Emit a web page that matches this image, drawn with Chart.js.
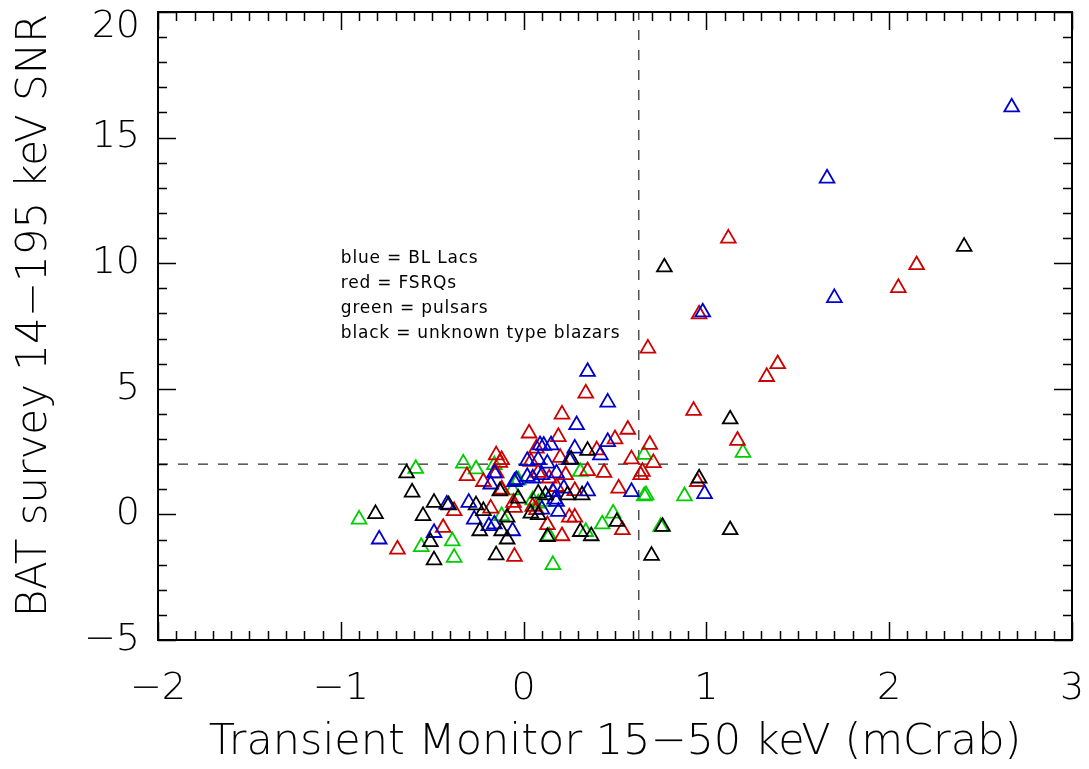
<!DOCTYPE html>
<html>
<head>
<meta charset="utf-8">
<script src="https://cdn.jsdelivr.net/npm/chart.js@4.4.1/dist/chart.umd.min.js"></script>
<style>
  html, body { margin: 0; padding: 0; background: #fff; }
  #wrap { width: 1089px; height: 769px; }
</style>
</head>
<body>
<div id="wrap"><canvas id="snr-chart"></canvas></div>
<script>
// BL Lacs (blue)
const blLacX = [2.67, 1.66, 1.70, 0.98, 0.99, 0.59, -0.79, -0.49, -0.42, -0.30, -0.27, -0.19, -0.16,
                -0.18, -0.16, -0.05, -0.06, 0.35, 0.46, 0.29, 0.46, 0.09, 0.11, 0.15, 0.28, 0.42,
                0.02, 0.08, 0.13, 0.25, 0.18, -0.04, 0.02, 0.10, 0.05, 0.16, 0.22, 0.35, 0.17,
                0.18, 0.10, 0.19];
const blLacY = [16.21, 13.38, 8.62, 8.05, 0.82, 0.90, -0.99, -0.73, 0.40, 0.47, -0.20, -0.46, -0.39,
                1.20, 1.64, 1.30, -0.66, 5.68, 4.46, 3.56, 2.89, 2.76, 2.74, 2.76, 2.63, 2.36,
                2.13, 2.17, 2.03, 2.17, 1.64, 1.37, 1.50, 1.57, 1.44, 0.90, 1.04, 0.93, 0.60,
                0.51, 0.20, 0.11];

// FSRQs (red)
const fsrqX = [1.12, 2.15, 2.05, 0.96, 0.68, 1.39, 1.33, 0.93, 1.17, 0.69, 0.71, 0.65, 0.64, 0.95,
               0.57, 0.59, -0.69, -0.38, -0.44, -0.31, -0.15, -0.13, -0.15, -0.22, -0.12, -0.18,
               -0.05, -0.055, -0.05, 0.34, 0.21, 0.03, 0.19, 0.50, 0.07, 0.40, 0.20, 0.04, 0.35,
               0.44, -0.12, 0.08, 0.14, 0.23, -0.12, 0.18, 0.28, 0.05, 0.07, 0.25, 0.28, 0.54,
               0.13, 0.21, 0.52];
const fsrqY = [10.99, 9.93, 9.02, 7.97, 6.61, 5.99, 5.48, 4.13, 2.94, 2.78, 2.05, 1.70, 1.57, 1.30,
               3.38, 2.20, -1.39, 0.14, -0.53, 1.53, 2.36, 2.06, 1.64, 1.30, 1.00, 0.24,
               -1.68, 0.47, 0.27, 4.82, 3.98, 3.23, 3.09, 3.00, 2.63, 2.56, 2.26, 2.10, 1.73,
               1.66, 2.17, 1.66, 1.44, 1.57, 0.97, 1.10, 0.94, 0.31, 0.18, -0.12, -0.12, -0.62,
               -0.42, -0.86, 1.04];

// pulsars (green)
const pulsarX = [1.20, 0.66, 0.67, 0.66, 0.88, 0.75, -0.90, -0.59, -0.56, -0.39, -0.38, -0.33, -0.26,
                 -0.16, -0.06, -0.12, 0.31, -0.03, 0.05, 0.08, 0.11, 0.49, 0.43, 0.14, 0.34, 0.16];
const pulsarY = [2.46, 2.38, 0.77, 0.73, 0.73, -0.49, -0.20, 1.82, -1.29, -1.06, -1.72, 2.03, 1.80,
                 1.97, 0.97, -0.06, 1.70, 1.37, 0.57, 0.44, 0.51, 0.04, -0.39, -0.86, -0.69, -2.01];

// unknown type blazars (black)
const unknownX = [2.41, 0.77, 1.13, 0.96, 0.76, 1.13, 0.70, -0.81, -0.64, -0.61, -0.55, -0.51, -0.49,
                  -0.49, -0.41, -0.26, -0.22, -0.09, -0.24, -0.12, -0.09, -0.15, -0.13, 0.35, 0.26,
                  -0.03, 0.08, 0.12, 0.32, 0.24, 0.04, 0.08, 0.51, 0.13, 0.31, 0.37];
const unknownY = [10.66, 9.84, 3.79, 1.44, -0.49, -0.62, -1.64, 0.02, 1.64, 0.88, -0.06, -1.09, -1.82,
                  0.47, 0.37, 0.37, 0.14, -0.12, -0.66, -0.66, -0.99, -1.62, 0.93, 2.54, 2.19,
                  0.64, 0.84, 0.77, 0.77, 0.77, 0.04, -0.02, -0.29, -0.89, -0.69, -0.86];

const cutX = 0.63;   // vertical dashed line
const cutY = 2;      // horizontal dashed line

const noteLines = ["blue = BL Lacs", "red = FSRQs", "green = pulsars", "black = unknown type blazars"];
const noteAnchor = {x: -1.0, y: 10.2};

const blue = 'rgb(0, 0, 205)';
const red = 'rgb(205, 0, 0)';
const green = 'rgb(0, 205, 0)';
const black = 'rgb(0, 0, 0)';

const baseFont = "'DejaVu Sans', sans-serif";
const tickFont = {family: baseFont, size: 38, weight: 200};
const titleFont = {family: baseFont, size: 43, weight: 200};
const yTitleFont = {family: baseFont, size: 42, weight: 200};

const toPoints = (xs, ys) => xs.map((x, i) => ({x: x, y: ys[i]}));

const makeSet = (label, xs, ys, color) => ({
    label: label,
    data: toPoints(xs, ys),
    pointStyle: 'triangle',
    pointRadius: 8.5,
    pointHoverRadius: 8.5,
    borderColor: color,
    backgroundColor: 'rgba(0,0,0,0)',
    borderWidth: 1.8
});

const fmtTick = (v) => v < 0 ? '\u2212' + Math.abs(v) : String(v);

const frameAndGuides = {
    id: 'frameAndGuides',
    beforeDatasetsDraw(chart) {
        const {ctx, chartArea: a, scales: {x, y}} = chart;
        ctx.save();
        ctx.strokeStyle = '#444';
        ctx.lineWidth = 1.4;
        ctx.setLineDash([10, 10]);
        const px = x.getPixelForValue(cutX);
        ctx.beginPath(); ctx.moveTo(px, a.bottom); ctx.lineTo(px, a.top); ctx.stroke();
        const py = y.getPixelForValue(cutY);
        ctx.beginPath(); ctx.moveTo(a.left, py); ctx.lineTo(a.right, py); ctx.stroke();
        ctx.restore();
    },
    afterDraw(chart) {
        const {ctx, chartArea: a, scales: {x, y}} = chart;
        ctx.save();
        ctx.strokeStyle = '#000';
        ctx.lineWidth = 2;
        ctx.strokeRect(a.left, a.top, a.right - a.left, a.bottom - a.top);

        ctx.lineWidth = 1.5;
        ctx.beginPath();
        // x ticks, every 0.1, major every 1
        for (let i = 0; i <= 50; i++) {
            const v = x.min + i * 0.1;
            const p = Math.round(x.getPixelForValue(v)) + 0.5;
            const len = i % 10 === 0 ? 18 : 9;
            ctx.moveTo(p, a.bottom); ctx.lineTo(p, a.bottom - len);
            ctx.moveTo(p, a.top); ctx.lineTo(p, a.top + len);
        }
        // y ticks, every 1, major every 5
        for (let i = 0; i <= 25; i++) {
            const v = y.min + i;
            const p = Math.round(y.getPixelForValue(v)) + 0.5;
            const len = i % 5 === 0 ? 18 : 9;
            ctx.moveTo(a.left, p); ctx.lineTo(a.left + len, p);
            ctx.moveTo(a.right, p); ctx.lineTo(a.right - len, p);
        }
        ctx.stroke();

        // y tick labels (top one kept inside the canvas)
        ctx.fillStyle = '#000';
        ctx.font = tickFont.weight + ' ' + tickFont.size + 'px ' + baseFont;
        ctx.textAlign = 'right';
        ctx.textBaseline = 'middle';
        y.ticks.forEach(t => {
            const p = Math.max(y.getPixelForValue(t.value), 27);
            ctx.fillText(fmtTick(t.value), a.left - 18, p);
        });

        // note text
        ctx.font = "17px " + baseFont;
        ctx.letterSpacing = '0.8px';
        ctx.textAlign = 'left';
        const tx = x.getPixelForValue(noteAnchor.x);
        noteLines.forEach((line, i) => {
            ctx.fillText(line, tx, y.getPixelForValue(noteAnchor.y - i));
        });
        ctx.restore();
    }
};

new Chart(document.getElementById('snr-chart'), {
    type: 'scatter',
    data: {
        datasets: [
            makeSet('unknown type blazars', unknownX, unknownY, black),
            makeSet('BL Lacs', blLacX, blLacY, blue),
            makeSet('FSRQs', fsrqX, fsrqY, red),
            makeSet('pulsars', pulsarX, pulsarY, green)
        ]
    },
    options: {
        responsive: true,
        maintainAspectRatio: false,
        animation: false,
        layout: {
            padding: {left: 0, right: 17, top: 12, bottom: 0}
        },
        plugins: {
            legend: {display: false},
            tooltip: {enabled: false}
        },
        scales: {
            x: {
                type: 'linear',
                min: -2,
                max: 3,
                afterFit: (s) => { s.height = 129; s.paddingLeft = 0; s.paddingRight = 0; },
                grid: {display: false, drawTicks: false},
                border: {display: false},
                ticks: {
                    stepSize: 1,
                    padding: 26,
                    color: '#000',
                    font: tickFont,
                    callback: fmtTick
                },
                title: {
                    display: true,
                    text: 'Transient Monitor 15\u221250 keV (mCrab)',
                    color: '#000',
                    font: titleFont,
                    padding: {top: 0, bottom: 0}
                }
            },
            y: {
                type: 'linear',
                min: -5,
                max: 20,
                afterFit: (s) => { s.width = 158; s.paddingTop = 0; s.paddingBottom = 0; },
                grid: {display: false, drawTicks: false},
                border: {display: false},
                ticks: {
                    stepSize: 5,
                    display: false
                },
                title: {
                    display: true,
                    text: '\u2002BAT survey 14\u2212195 keV SNR',
                    color: '#000',
                    font: yTitleFont,
                    padding: {top: 10, bottom: 0}
                }
            }
        }
    },
    plugins: [frameAndGuides]
});
</script>
</body>
</html>
